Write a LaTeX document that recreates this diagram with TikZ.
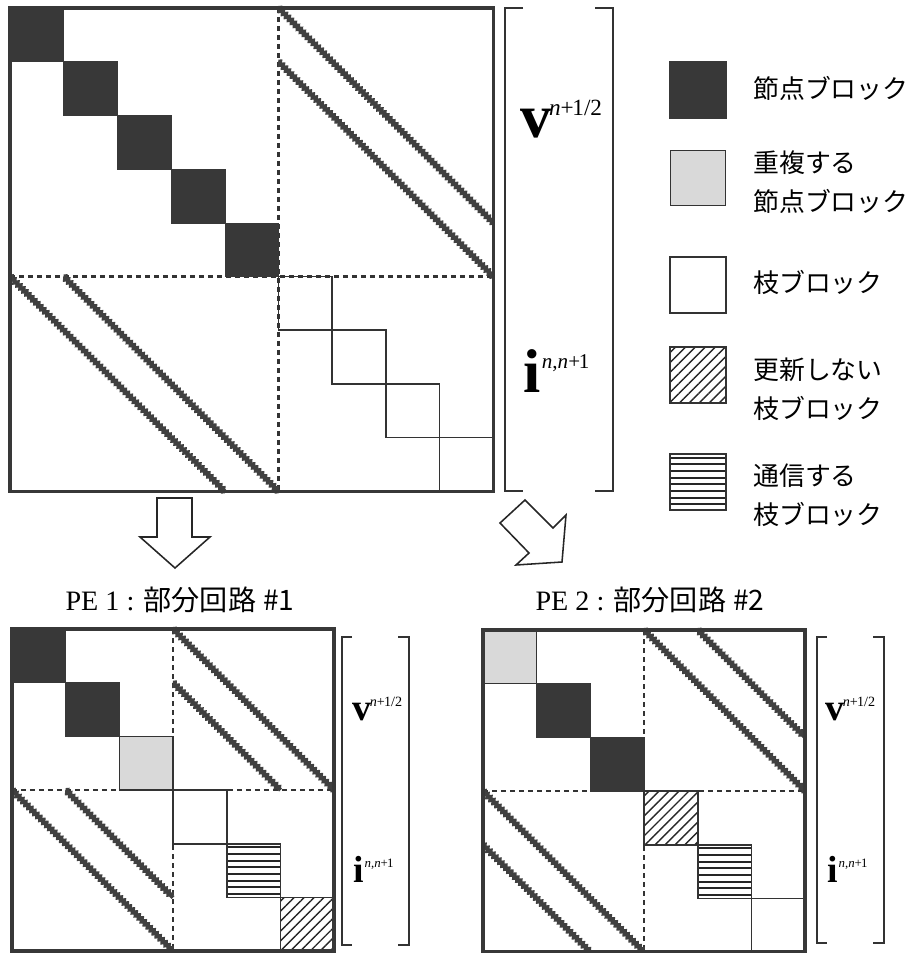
\documentclass[tikz,border=0pt]{standalone}
\usepackage{fontspec}
\setmainfont{Liberation Serif}
\newfontfamily\jpfont{Noto Sans CJK JP}
\usetikzlibrary{patterns.meta,decorations.pathmorphing}
\newcommand{\blk}{53.7}
\newcommand{\vlab}{\textbf{v}\kern-1.5pt\raisebox{16pt}{\fontsize{16.5}{16.5}\selectfont\textit{n}+\kern-1pt1/2}}
\newcommand{\ilab}{\textbf{i}\kern1pt\raisebox{17pt}{\fontsize{15}{15}\selectfont\textit{n},\textit{n}+\kern-1pt1}}
\tikzset{frame/.style={draw=black!78,line width=2.5pt},
  nodeblk/.style={fill=black!78,draw=black!78},
  dupblk/.style={draw=black!80,line width=1pt,fill=black!15},
  brblk/.style={draw=black!80,line width=1.1pt},
  fixblk/.style={brblk,pattern={Lines[angle=45,distance=5pt,line width=1pt]},pattern color=black!85},
  comblk/.style={brblk,path picture={
    \foreach \s in {1,...,8}
      \draw[black!85,line width=1.4pt] ([yshift={-(\s-.5)*4.76pt}]path picture bounding box.north west)
        -- ([yshift={-(\s-.5)*4.76pt}]path picture bounding box.north east);}},
  midline/.style={draw=black!80,line width=1.5pt,dash pattern=on 3.8pt off 2.6pt},
  band/.style={draw=black!75,line width=2.9pt,decorate,decoration={zigzag,segment length=3pt,amplitude=.9pt}},
  brk/.style={draw=black!80,line width=1.1pt},
  bigarr/.style={draw=black!85,line width=1.1pt,line join=miter,fill=white},
  legbox/.style={minimum size=39.5pt,inner sep=0pt,draw=black!80,line width=1.1pt},
  legtxt/.style={anchor=west,align=left,inner sep=0pt,font=\jpfont\fontsize{18.4}{27.5}\selectfont},
  vec/.style={anchor=base west,inner sep=0pt,font=\fontsize{44}{44}\selectfont},
  title/.style={font=\fontsize{20}{24}\selectfont}}

\begin{document}
\begin{tikzpicture}[x=0.025cm,y=-0.025cm]
\useasboundingbox (0,0) rectangle (917,953);
% whole circuit
\begin{scope}[shift={(10,8)}]
  \draw[midline] (5*\blk,0) -- (5*\blk,9*\blk) (0,5*\blk) -- (9*\blk,5*\blk);
  \foreach \k in {0,...,4} \fill[nodeblk] (\k*\blk,\k*\blk) rectangle ++(\blk,\blk);
  \foreach \k in {5,...,8} \draw[brblk] (\k*\blk,\k*\blk) rectangle ++(\blk,\blk);
  \draw[band] (5*\blk,0) -- (9*\blk,4*\blk);
  \draw[band] (5*\blk,\blk) -- (9*\blk,5*\blk);
  \draw[band] (0,5*\blk) -- (4*\blk,9*\blk);
  \draw[band] (\blk,5*\blk) -- (5*\blk,9*\blk);
  \draw[frame] (0,0) rectangle (9*\blk,9*\blk);
\end{scope}
\draw[brk] (523,8) -- (505,8) -- (505,491) -- (523,491);
\draw[brk] (595,8) -- (613,8) -- (613,491) -- (595,491);
\node[vec] (vall) at (520,138) {\vlab};
\node[vec] (iall) at (523,392) {\ilab};

% legend
\node[legbox,nodeblk] (knode) at (698,90) {};
\node[legbox,dupblk] (kdup) at (698,178) {};
\node[legbox] (kbr) at (698,285) {};
\node[legbox,fixblk] (kfix) at (698,375) {};
\node[legbox,comblk] (kcom) at (698,482) {};
\node[legtxt] (tnode) at (753,88) {節点ブロック};
\node[legtxt] (tdup) at (753,182) {重複する\\節点ブロック};
\node[legtxt] (tbr) at (753,282) {枝ブロック};
\node[legtxt] (tfix) at (753,389) {更新しない\\枝ブロック};
\node[legtxt] (tcom) at (753,495) {通信する\\枝ブロック};

% split into PEs
\draw[bigarr] (157,498) -- (192,498) -- (192,537) -- (210,537) -- (175,568) -- (140,537) -- (157,537) -- cycle;
\draw[bigarr] (525,500) -- (553,528) -- (566,515) -- (562,562) -- (516,565) -- (529,553) -- (500,523) -- cycle;
\node[title] (pe1) at (180,600) {PE 1 : {\jpfont 部分回路\hspace{5pt}\#1}};
\node[title] (pe2) at (650,600) {PE 2 : {\jpfont 部分回路\hspace{5pt}\#2}};

% PE 1
\begin{scope}[shift={(12,629)}]
  \draw[midline] (3*\blk,0) -- (3*\blk,6*\blk) (0,3*\blk) -- (6*\blk,3*\blk);
  \foreach \k in {0,1} \fill[nodeblk] (\k*\blk,\k*\blk) rectangle ++(\blk,\blk);
  \draw[dupblk] (2*\blk,2*\blk) rectangle ++(\blk,\blk);
  \draw[brblk] (3*\blk,3*\blk) rectangle ++(\blk,\blk);
  \draw[comblk] (4*\blk,4*\blk) rectangle ++(\blk,\blk);
  \draw[fixblk] (5*\blk,5*\blk) rectangle ++(\blk,\blk);
  \draw[band] (3*\blk,0) -- (6*\blk,3*\blk);
  \draw[band] (3*\blk,\blk) -- (5*\blk,3*\blk);
  \draw[band] (0,3*\blk) -- (3*\blk,6*\blk);
  \draw[band] (\blk,3*\blk) -- (3*\blk,5*\blk);
  \draw[frame] (0,0) rectangle (6*\blk,6*\blk);
\end{scope}
\draw[brk] (352,637) -- (342,637) -- (342,945) -- (352,945);
\draw[brk] (398,637) -- (409,637) -- (409,945) -- (398,945);
\node[vec] (vpe1) at (352,720) {\scalebox{.61}{\vlab}};
\node[vec] (ipe1) at (353,882) {\scalebox{.61}{\ilab}};

% PE 2
\begin{scope}[shift={(483,630)}]
  \draw[midline] (3*\blk,0) -- (3*\blk,6*\blk) (0,3*\blk) -- (6*\blk,3*\blk);
  \draw[dupblk] (0,0) rectangle ++(\blk,\blk);
  \foreach \k in {1,2} \fill[nodeblk] (\k*\blk,\k*\blk) rectangle ++(\blk,\blk);
  \draw[fixblk] (3*\blk,3*\blk) rectangle ++(\blk,\blk);
  \draw[comblk] (4*\blk,4*\blk) rectangle ++(\blk,\blk);
  \draw[brblk] (5*\blk,5*\blk) rectangle ++(\blk,\blk);
  \draw[band] (3*\blk,0) -- (6*\blk,3*\blk);
  \draw[band] (4*\blk,0) -- (6*\blk,2*\blk);
  \draw[band] (0,3*\blk) -- (3*\blk,6*\blk);
  \draw[band] (0,4*\blk) -- (2*\blk,6*\blk);
  \draw[frame] (0,0) rectangle (6*\blk,6*\blk);
\end{scope}
\draw[brk] (827,637) -- (817,637) -- (817,943) -- (827,943);
\draw[brk] (873,637) -- (884,637) -- (884,943) -- (873,943);
\node[vec] (vpe2) at (825,720) {\scalebox{.61}{\vlab}};
\node[vec] (ipe2) at (827,882) {\scalebox{.61}{\ilab}};
\end{tikzpicture}
\end{document}
